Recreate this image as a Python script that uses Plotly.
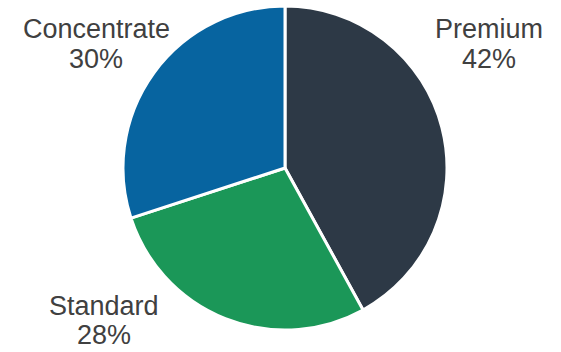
import plotly.graph_objects as go

labels = ["Premium", "Standard", "Concentrate"]
values = [42, 28, 30]
colors = ["#2D3946", "#1B9758", "#0764A0"]
pct_text = ["42%", "28%", "30%"]

W, H = 561, 352
# label centres in pixels (x, y of name line, y of percent line)
label_px = [489, 103.5, 96]
name_py = [29, 306, 29]
pct_py = [59, 335, 59]

fig = go.Figure(go.Pie(
    labels=labels,
    values=values,
    sort=False,
    direction="clockwise",
    rotation=0,
    marker=dict(colors=colors, line=dict(color="white", width=3)),
    textinfo="none",
    hoverinfo="label+percent",
    domain=dict(x=[123/W, 447/W], y=[22/H, 346/H]),
    showlegend=False,
))

font = dict(family="Liberation Sans, Arial, sans-serif", size=27, color="#404040")
for lab, pt, px, ny, py in zip(labels, pct_text, label_px, name_py, pct_py):
    for txt, yy in ((lab, ny), (pt, py)):
        fig.add_annotation(
            x=px / W, y=1 - yy / H, xref="paper", yref="paper",
            text=txt, showarrow=False, font=font,
            xanchor="center", yanchor="middle",
        )

fig.update_layout(
    width=W, height=H,
    margin=dict(l=0, r=0, t=0, b=0),
    paper_bgcolor="white", plot_bgcolor="white",
)

fig.write_html(
    "out.html",
    config={"displayModeBar": False},
    post_script="document.body.style.margin='0';document.body.style.padding='0';",
)
